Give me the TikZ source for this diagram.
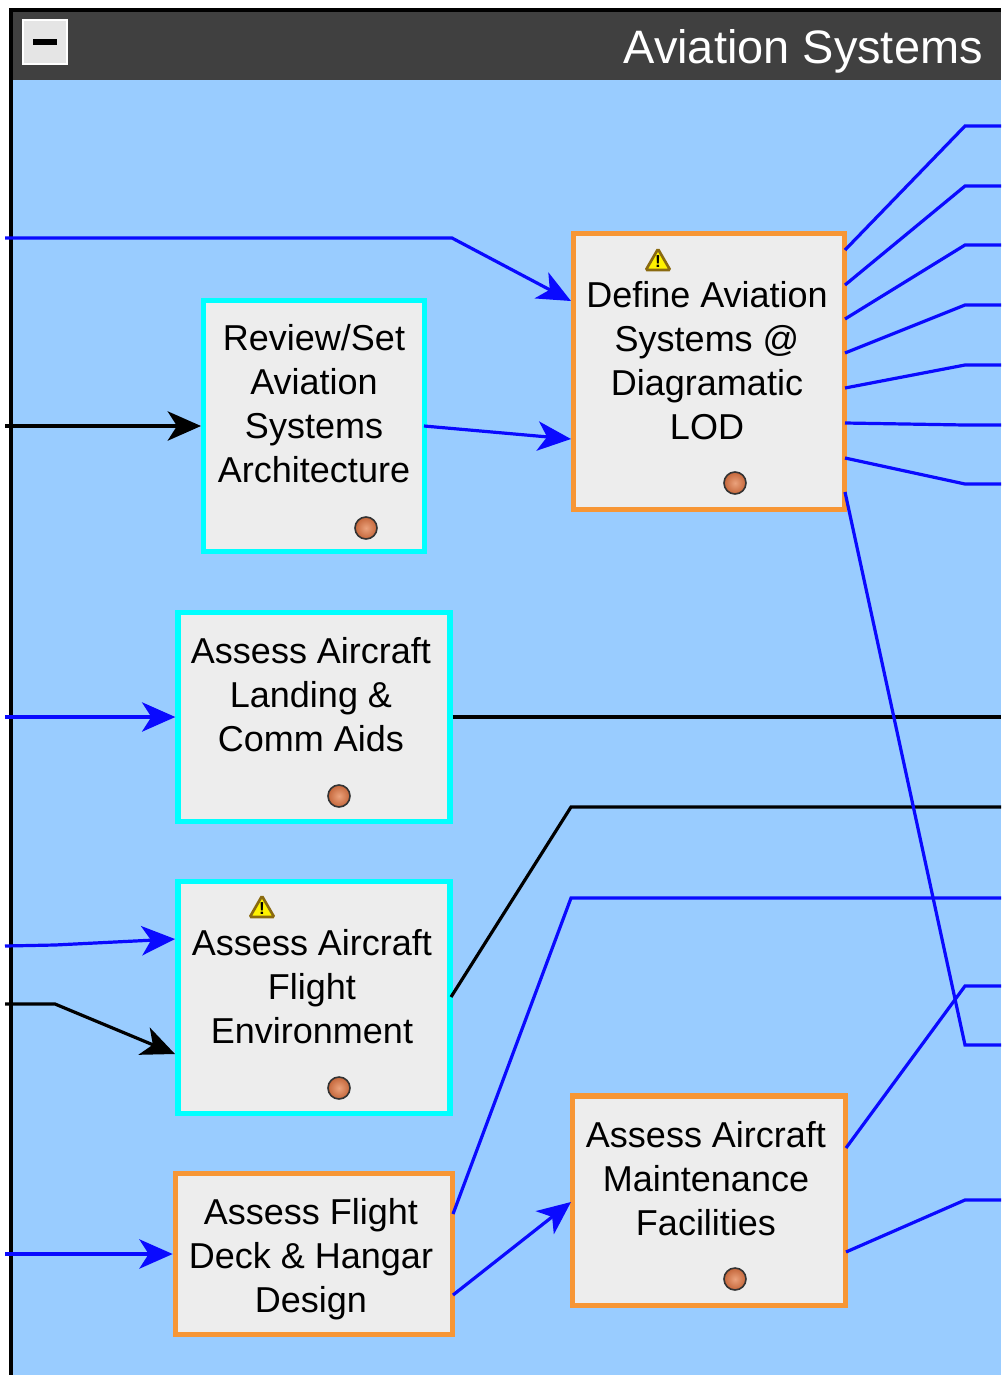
\documentclass[tikz,border=0pt]{standalone}
\usepackage{fontspec}
\setmainfont{Liberation Sans}
\usetikzlibrary{arrows.meta, shapes.geometric}

\definecolor{skyfill}{HTML}{99CCFF}
\definecolor{barfill}{HTML}{404040}
\definecolor{boxfill}{HTML}{EDEDED}
\definecolor{orangeedge}{HTML}{F79635}
\definecolor{cyanedge}{HTML}{00FFFF}
\definecolor{linkblue}{HTML}{0A0AFF}
\definecolor{ballin}{HTML}{EBA27C}
\definecolor{ballout}{HTML}{C4663A}
\definecolor{warnedge}{HTML}{8A6A10}

\begin{document}
\begin{tikzpicture}[x=0.75pt, y=-0.75pt, >={Stealth[length=25pt, width=22pt, inset=7pt]},
  task/.style={draw, fill=boxfill, line width=4pt, inner sep=0pt},
  cyantask/.style={task, draw=cyanedge},
  orangetask/.style={task, draw=orangeedge},
  tasktxt/.style={font=\fontsize{27pt}{33pt}\selectfont, align=center, inner sep=0pt},
  ball/.style={circle, draw=black!80, line width=1.2pt, inner sep=0pt, minimum size=16.5pt, inner color=ballin, outer color=ballout},
  warn/.style={regular polygon, regular polygon sides=3, draw=warnedge, line width=2pt, fill=yellow,
    inner sep=0pt, minimum size=21pt, rounded corners=1pt},
  bang/.style={font=\bfseries\fontsize{13pt}{13pt}\selectfont, inner sep=0pt},
  blueline/.style={draw=linkblue, line width=2.4pt},
  blackline/.style={draw=black, line width=2.4pt}]

\useasboundingbox (0,0) rectangle (1001,1375);

%% ===================== frame =====================
\fill[skyfill] (12,10) rectangle (1001,1375);
\fill[barfill] (12,10) rectangle (1001,80);
\draw[line width=2.4pt] (11,1375) -- (11,10) -- (1001,10);
\node[anchor=east, text=white, inner sep=0pt, font=\fontsize{35.2pt}{40pt}\selectfont] (title) at (983,51) {Aviation Systems};

\node[draw=white, fill=black!10, line width=1.5pt, minimum width=33pt, minimum height=33pt, inner sep=0pt] (minusbtn) at (45,42) {};
\node[fill=black, minimum width=18pt, minimum height=4pt, inner sep=0pt] (minusbar) at (45,42) {};

%% ===================== tasks =====================
\node[cyantask, minimum width=165.5pt, minimum height=188pt] (review) at (314,426) {};
\node[orangetask, minimum width=203pt, minimum height=207pt] (define) at (709,371.5) {};
\node[cyantask, minimum width=204pt, minimum height=157pt] (landing) at (314,717) {};
\node[cyantask, minimum width=204pt, minimum height=174pt] (flight) at (314,997.5) {};
\node[orangetask, minimum width=208pt, minimum height=121pt] (deck) at (314,1254) {};
\node[orangetask, minimum width=205pt, minimum height=157pt] (maint) at (709,1200.5) {};

\node[tasktxt] (reviewtxt) at (314,404) {Review/Set\\Aviation\\Systems\\Architecture};
\node[tasktxt] (definetxt) at (707,361) {Define Aviation\\Systems @\\Diagramatic\\LOD};
\node[tasktxt] (landingtxt) at (311,695) {Assess Aircraft\\Landing \&\\Comm Aids};
\node[tasktxt] (flighttxt) at (312,987) {Assess Aircraft\\Flight\\Environment};
\node[tasktxt] (decktxt) at (311,1259) {Assess Flight\\Deck \& Hangar\\Design};
\node[tasktxt] (mainttxt) at (706,1179) {Assess Aircraft\\Maintenance\\Facilities};

%% status balls
\node[ball] (reviewball) at (366,528) {};
\node[ball] (defineball) at (735,483) {};
\node[ball] (landingball) at (339,796) {};
\node[ball] (flightball) at (339,1088) {};
\node[ball] (maintball) at (735,1279) {};

%% warnings
\node[warn] (definewarn) at (658,263) {};
\node[bang] (definebang) at (658,262) {!};
\node[warn] (flightwarn) at (262,910) {};
\node[bang] (flightbang) at (262,909) {!};

%% ===================== free ends and bends =====================
\coordinate (archin) at (5,238);
\coordinate (archbend) at (452,238);
\coordinate (archtip) at (571,301);
\coordinate (reviewin) at (5,426);
\coordinate (reviewout) at (424,426);
\coordinate (definetip) at (571,439);
\coordinate (landingin) at (5,717);
\coordinate (landingend) at (1001,717);
\coordinate (envin) at (5,946);
\coordinate (envbend) at (55,945);
\coordinate (envtip) at (175,939);
\coordinate (powin) at (5,1004);
\coordinate (powbend) at (55,1004);
\coordinate (powtip) at (175,1054);
\coordinate (flightout) at (451,997);
\coordinate (flightbend) at (571,807);
\coordinate (flightend) at (1001,807);
\coordinate (deckin) at (5,1254);
\coordinate (deckup) at (453,1214);
\coordinate (deckbend) at (571,898);
\coordinate (deckend) at (1001,898);
\coordinate (deckdown) at (453,1295);
\coordinate (mainttip) at (571,1202);
\coordinate (longout) at (845,492);
\coordinate (longbend) at (965,1045);
\coordinate (longend) at (1001,1045);
\coordinate (maintup) at (846,1148);
\coordinate (maintupbend) at (965,986);
\coordinate (maintupend) at (1001,986);
\coordinate (maintdown) at (846,1252);
\coordinate (maintdownbend) at (965,1200);
\coordinate (maintdownend) at (1001,1200);

%% ===================== connectors =====================
\draw[blueline, ->] (archin) -- (archbend) -- (archtip);
\draw[blackline, ->] (reviewin) -- (review.west);
\draw[blueline, ->] (reviewout) -- (definetip);
\draw[blueline, ->] (landingin) -- (landing.west);
\draw[blackline] (landing.east) -- (landingend);
\draw[blueline, ->] (envin) -- (envbend) -- (envtip);
\draw[blackline, ->] (powin) -- (powbend) -- (powtip);
\draw[blackline] (flightout) -- (flightbend) -- (flightend);
\draw[blueline, ->] (deckin) -- (deck.west);
\draw[blueline] (deckup) -- (deckbend) -- (deckend);
\draw[blueline, ->] (deckdown) -- (mainttip);
\draw[blueline] (longout) -- (longbend) -- (longend);
\draw[blueline] (maintup) -- (maintupbend) -- (maintupend);
\draw[blueline] (maintdown) -- (maintdownbend) -- (maintdownend);

% fan out of the define task
\foreach \ya/\yb in {250/126, 285/186, 319/245, 353/305, 388/365, 423/425, 458/484}{
  \coordinate (fanout) at (845,\ya);
  \coordinate (fanbend) at (965,\yb);
  \coordinate (fanend) at (1001,\yb);
  \draw[blueline] (fanout) -- (fanbend) -- (fanend);
}

\end{tikzpicture}
\end{document}
